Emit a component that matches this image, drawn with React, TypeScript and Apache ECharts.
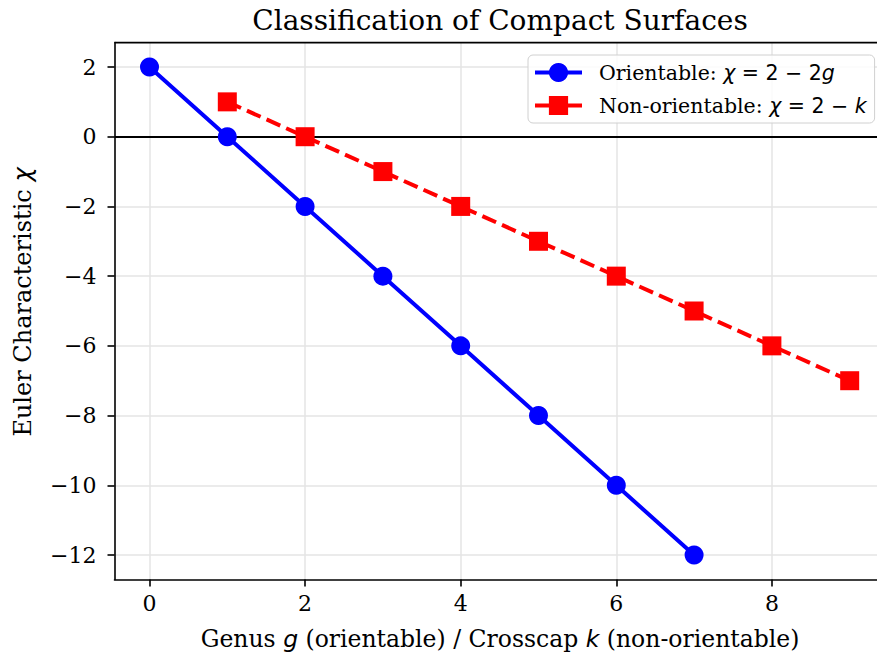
import React, { useEffect, useRef } from "react";
import * as echarts from "echarts";

const orientX = [0, 1, 2, 3, 4, 5, 6, 7];
const orientY = [2, 0, -2, -4, -6, -8, -10, -12];
const nonOrientX = [1, 2, 3, 4, 5, 6, 7, 8, 9];
const nonOrientY = [1, 0, -1, -2, -3, -4, -5, -6, -7];
const xTicks = [0, 2, 4, 6, 8];
const yTicks = [-12, -10, -8, -6, -4, -2, 0, 2];

const SERIF = "'DejaVu Serif', serif";
const SANS = "'DejaVu Sans', sans-serif";
const W = 886;

export default function App() {
  const ref = useRef<HTMLDivElement>(null);
  useEffect(() => {
    if (!ref.current) return;
    const chart = echarts.init(ref.current, null, { renderer: "svg" });
    const fmt = (v: number) => String(v).replace("-", "\u2212");
    chart.setOption({
      animation: false,
      backgroundColor: "#ffffff",
      graphic: [
        {
          type: "text",
          x: 500,
          y: 20,
          style: {
            text: "Classification of Compact Surfaces",
            font: `28px ${SERIF}`,
            fill: "#000",
            textAlign: "center",
            textVerticalAlign: "middle",
          },
        },
        {
          type: "text",
          x: 500,
          y: 639,
          style: {
            rich: {
              s: { fontFamily: SERIF, fontSize: 23.5, fill: "#000" },
              m: { fontFamily: SANS, fontStyle: "italic", fontSize: 23.5, fill: "#000" },
            },
            text: "{s|Genus }{m|g}{s| (orientable) / Crosscap }{m|k}{s| (non-orientable)}",
            textAlign: "center",
            textVerticalAlign: "middle",
          },
        },
        {
          type: "text",
          x: 23,
          y: 302,
          rotation: Math.PI / 2,
          style: {
            rich: {
              s: { fontFamily: SERIF, fontSize: 24, fill: "#000" },
              m: { fontFamily: SANS, fontStyle: "italic", fontSize: 24, fill: "#000" },
            },
            text: "{s|Euler Characteristic }{m|χ}",
            textAlign: "center",
            textVerticalAlign: "middle",
          },
        },
        {
          type: "line",
          shape: { x1: 114.5, y1: 42.6, x2: W, y2: 42.6 },
          style: { stroke: "#000", lineWidth: 1.6 },
          z: 10,
        },
      ],
      grid: { left: 114.5, right: 1.3, top: 42.6, bottom: 77.6, containLabel: false },
      legend: {
        left: 528,
        top: 55,
        orient: "vertical",
        itemWidth: 47,
        itemHeight: 24,
        itemGap: 12,
        padding: [7, 8, 7, 5],
        backgroundColor: "rgba(255,255,255,0.85)",
        borderColor: "#d0d0d0",
        borderWidth: 1,
        borderRadius: 5,
        lineStyle: { width: 4 },
        formatter: (name: string) =>
          name === "o"
            ? "{sp|}{s|Orientable: }{m|χ}{n| = 2 − 2}{m|g}"
            : "{sp|}{s|Non-orientable: }{m|χ}{n| = 2 − }{m|k}",
        textStyle: {
          rich: {
            sp: { width: 12 },
            s: { fontFamily: SERIF, fontSize: 20.5, color: "#000" },
            m: { fontFamily: SANS, fontStyle: "italic", fontSize: 20.5, color: "#000" },
            n: { fontFamily: SANS, fontSize: 20.5, color: "#000" },
          },
        },
        data: [
          { name: "o" },
          { name: "n", lineStyle: { type: "solid", width: 4 } },
        ],
      },
      xAxis: {
        type: "value",
        min: -0.45,
        max: 9.45,
        axisLine: { show: true, onZero: false, lineStyle: { color: "#000", width: 1.6 } },
        axisTick: { show: true, customValues: xTicks, length: 7, inside: false, lineStyle: { color: "#000", width: 1.6 } },
        axisLabel: { customValues: xTicks, formatter: fmt, fontFamily: SERIF, fontSize: 22, color: "#000", margin: 13 },
        splitLine: { show: true, lineStyle: { color: "#e5e5e5", width: 1.5 } },
      },
      yAxis: [
        {
          type: "value",
          min: -12.7,
          max: 2.7,
          axisLine: { show: true, onZero: false, lineStyle: { color: "#000", width: 1.6 } },
          axisTick: { show: true, customValues: yTicks, length: 7, lineStyle: { color: "#000", width: 1.6 } },
          axisLabel: { customValues: yTicks, formatter: fmt, fontFamily: SERIF, fontSize: 22, color: "#000", margin: 18 },
          splitLine: { show: true, lineStyle: { color: "#e5e5e5", width: 1.5 } },
        },
      ],
      series: [
        {
          name: "o",
          type: "line",
          data: orientX.map((x, i) => [x, orientY[i]]),
          color: "#0000ff",
          lineStyle: { color: "#0000ff", width: 4 },
          symbol: "circle",
          symbolSize: 19,
          itemStyle: { color: "#0000ff" },
          z: 3,
          markLine: {
            silent: true,
            symbol: "none",
            label: { show: false },
            lineStyle: { color: "#000", width: 1.8, type: "solid" },
            data: [{ yAxis: 0 }],
            z: 1,
          },
        },
        {
          name: "n",
          type: "line",
          data: nonOrientX.map((x, i) => [x, nonOrientY[i]]),
          color: "#ff0000",
          lineStyle: { color: "#ff0000", width: 4, type: [15, 6.5] },
          symbol: "rect",
          symbolSize: 19,
          itemStyle: { color: "#ff0000" },
          z: 3,
        },
      ],
    });
    return () => chart.dispose();
  }, []);
  return (
    <div style={{ position: "fixed", left: 0, top: 0, width: 877, height: 657, overflow: "hidden", background: "#fff" }}>
      <div ref={ref} style={{ width: W, height: 657 }} />
    </div>
  );
}
